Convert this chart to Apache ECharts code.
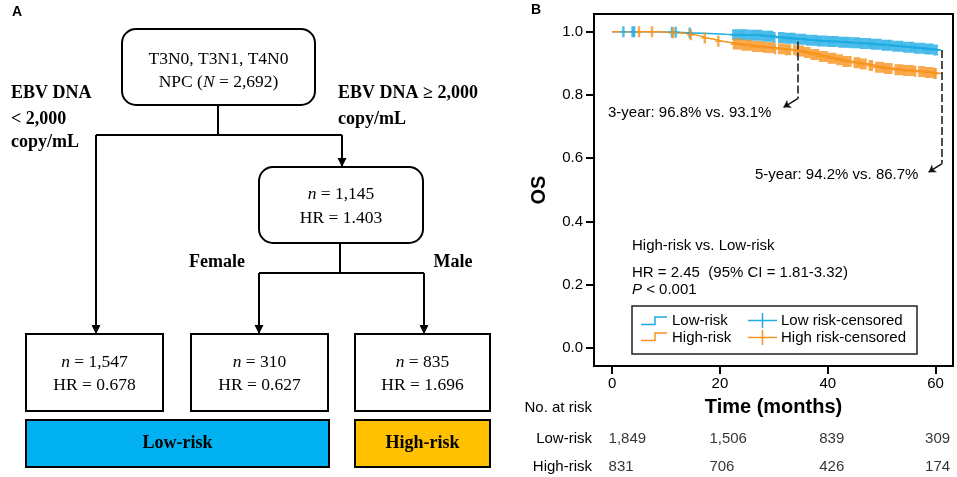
<!DOCTYPE html>
<html>
<head>
<meta charset="utf-8">
<script src="https://cdn.jsdelivr.net/npm/echarts@6/dist/echarts.min.js"></script>
<style>
html,body{margin:0;padding:0;background:#fff;}
#chart{width:957px;height:477px;}
</style>
</head>
<body>
<div id="chart"></div>
<script>
// ---------------- DATA ----------------
// Panel A: decision tree
const rootStages = 'T3N0, T3N1, T4N0';
const rootN = '2,692';
const splitLabelsEBV = ['EBV DNA', '< 2,000', 'copy/mL'];
const splitLabelsEBVHigh = ['EBV DNA \u2265 2,000', 'copy/mL'];
const midN = '1,145';
const midHR = '1.403';
const sexLabels = ['Female', 'Male'];
const leafN = ['1,547', '310', '835'];
const leafHR = ['0.678', '0.627', '1.696'];
const riskGroups = ['Low-risk', 'High-risk'];

// Panel B: Kaplan-Meier (time in months, survival proportion)
const lowRiskSteps = [[0,1.0],[8,0.998],[12,0.996],[15,0.994],[18,0.992],[21,0.990],[25,0.989],[28,0.986],[30,0.982],[32,0.979],[34,0.976],[36,0.973],[38,0.971],[40,0.969],[42,0.967],[44,0.965],[46,0.963],[48,0.960],[50,0.957],[52,0.954],[54,0.951],[56,0.948],[58,0.945],[59.5,0.942],[61,0.942]];
const highRiskSteps = [[0,1.0],[8.5,0.997],[12,0.994],[14,0.990],[15.5,0.986],[16.5,0.980],[17.5,0.976],[19,0.970],[20.5,0.966],[22,0.961],[24,0.957],[26,0.953],[28,0.950],[30,0.946],[32,0.943],[34,0.939],[35.5,0.934],[37,0.928],[38.5,0.922],[40,0.916],[41.5,0.911],[43,0.906],[44.5,0.902],[46,0.898],[47.5,0.893],[49,0.888],[50.5,0.884],[52,0.880],[54,0.877],[56,0.874],[58,0.871],[59.5,0.868],[61,0.868]];
const lowRiskCensored = [2.1,3.8,4.1,11.1,11.8,14.4,
 22.5,22.9,23.3,23.7,24.1,24.5,24.9,25.3,25.7,26.1,26.5,26.9,27.3,27.7,28.1,28.5,28.9,29.3,29.7,30.1,
 31.0,31.4,31.8,32.2,32.6,33.0,33.4,33.8,34.2,34.6,35.0,35.4,35.8,36.2,36.6,37.0,37.4,37.8,38.2,38.6,39.0,39.4,39.8,40.2,40.6,41.0,41.4,41.8,42.2,42.6,43.0,43.4,43.8,44.2,44.6,45.0,45.4,45.8,46.2,46.6,47.0,47.4,47.8,48.2,48.6,49.0,49.4,49.8,50.2,50.6,51.0,51.4,51.8,52.2,52.6,53.0,53.4,53.8,54.2,54.6,55.0,55.4,55.8,56.2,56.6,57.0,57.4,57.8,58.2,58.6,59.0,59.4,59.8,60.2];
const highRiskCensored = [5.0,7.4,11.3,14.6,17.2,19.7,
 22.6,23.0,23.4,23.8,24.2,24.6,25.0,25.4,25.8,26.2,26.6,27.0,27.4,27.8,28.2,28.6,29.0,29.4,29.8,30.2,
 31.0,31.4,31.8,32.2,32.6,33.0,33.8,34.2,34.6,35.0,35.4,35.8,36.2,36.6,37.0,37.4,37.8,38.2,38.6,39.0,39.4,39.8,40.2,40.6,41.0,41.4,41.8,42.2,42.6,43.0,43.4,43.8,44.2,
 45.0,45.4,45.8,46.2,46.6,47.0,47.8,48.2,49.0,49.4,49.8,50.2,50.6,51.0,51.4,51.8,52.6,53.0,53.4,53.8,54.2,54.6,55.0,55.4,55.8,56.2,57.0,57.4,57.8,58.2,58.6,59.0,59.4,59.8,60.0];
const xTicks = [0, 20, 40, 60];
const yTicks = [0, 0.2, 0.4, 0.6, 0.8, 1.0];
const atRiskTimes = [0, 20, 40, 60];
const atRiskLow = ['1,849', '1,506', '839', '309'];
const atRiskHigh = ['831', '706', '426', '174'];
const survival3yr = ['96.8%', '93.1%'];
const survival5yr = ['94.2%', '86.7%'];
const hrText = '2.45';
const ciText = '1.81-3.32';
const pText = '0.001';
const legendNames = ['Low-risk', 'High-risk', 'Low risk-censored', 'High risk-censored'];
// guide lines (time, survival): vertical dashed part then arrow
const guide3yr = [[34.5, 0.969], [34.5, 0.789], [31.8, 0.761]];
const guide5yr = [[61.2, 0.942], [61.2, 0.583], [58.7, 0.556]];

// ---------------- STYLE / LAYOUT ----------------
const BLUE = '#1DABE3', ORANGE = '#F7931E';
const SERIF = '"Liberation Serif","Times New Roman",serif';
const SANS = '"Liberation Sans",Arial,sans-serif';
const TREE_FS = 17.5;
const atRiskShift = [-4, -11, -9, -11];

function survivalAt(steps, t) {
  let s = steps[0][1];
  for (const p of steps) { if (p[0] <= t) s = p[1]; else break; }
  return s;
}

const g = [];
function txt(x, y, text, opt) {
  opt = opt || {};
  g.push({type: 'text', x: x, y: y, z: 10, style: {
    text: text, fill: '#000',
    fontFamily: opt.family || SERIF, fontSize: opt.size || TREE_FS, fontWeight: opt.weight || 'normal',
    align: opt.align || 'center', verticalAlign: 'middle',
    textAlign: opt.align || 'center', textVerticalAlign: 'middle',
    rich: opt.rich
  }});
}
function line(points, opt) {
  opt = opt || {};
  g.push({type: 'polyline', z: 5, shape: {points: points},
    style: {stroke: opt.color || '#000', lineWidth: opt.width || 2, fill: null}});
}
function arrowHead(x, y) {
  g.push({type: 'polygon', z: 6, shape: {points: [[x - 4.5, y - 9], [x + 4.5, y - 9], [x, y]]}, style: {fill: '#000'}});
}
function box(x, y, w, h, r, fill) {
  g.push({type: 'rect', z: 4, shape: {x: x, y: y, width: w, height: h, r: r || 0},
    style: {fill: fill || '#fff', stroke: '#000', lineWidth: 2}});
}
const italicRich = {i: {fontStyle: 'italic', fontFamily: SERIF, fontSize: TREE_FS}, r: {fontFamily: SERIF, fontSize: TREE_FS}};

// Panel labels
txt(17, 12, 'A', {family: SANS, size: 14, weight: 'bold'});
txt(536, 10, 'B', {family: SANS, size: 14, weight: 'bold'});

// Root box
box(122, 29, 193, 76, 14);
txt(218.5, 59, rootStages);
txt(218.5, 82, '{r|NPC (}{i|N}{r| = ' + rootN + ')}', {rich: italicRich});
line([[218, 105], [218, 135]]);
line([[96, 135], [342, 135]]);
line([[96, 135], [96, 333]]); arrowHead(96, 334);
line([[342, 135], [342, 166]]); arrowHead(342, 167);
// split labels
txt(11, 93, splitLabelsEBV[0], {align: 'left', weight: 'bold', size: 18});
txt(11, 119, splitLabelsEBV[1], {align: 'left', weight: 'bold', size: 18});
txt(11, 142, splitLabelsEBV[2], {align: 'left', weight: 'bold', size: 18});
txt(338, 93, splitLabelsEBVHigh[0], {align: 'left', weight: 'bold', size: 18});
txt(338, 119, splitLabelsEBVHigh[1], {align: 'left', weight: 'bold', size: 18});

// Middle box
box(259, 167, 164, 76, 14);
txt(341, 194, '{i|n}{r| = ' + midN + '}', {rich: italicRich});
txt(341, 218, 'HR = ' + midHR);
line([[340, 243], [340, 273]]);
line([[259, 273], [424, 273]]);
line([[259, 273], [259, 333]]); arrowHead(259, 334);
line([[424, 273], [424, 333]]); arrowHead(424, 334);
txt(217, 262, sexLabels[0], {weight: 'bold', size: 18});
txt(453, 262, sexLabels[1], {weight: 'bold', size: 18});

// Leaf boxes
const leafX = [[26, 163], [191, 328], [355, 490]];
leafX.forEach(function (b, i) {
  box(b[0], 334, b[1] - b[0], 77, 0);
  const cx = (b[0] + b[1]) / 2;
  txt(cx, 362, '{i|n}{r| = ' + leafN[i] + '}', {rich: italicRich});
  txt(cx, 385, 'HR = ' + leafHR[i]);
});
// Risk bars
box(26, 420, 303, 47, 0, '#00B0F0');
txt(177.5, 443.5, riskGroups[0], {weight: 'bold', size: 18});
box(355, 420, 135, 47, 0, '#FFC000');
txt(422.5, 443.5, riskGroups[1], {weight: 'bold', size: 18});

// Panel B annotations
const sansOpt = {family: SANS, size: 15, align: 'left'};
txt(608, 113, '3-year: ' + survival3yr[0] + ' vs. ' + survival3yr[1], sansOpt);
txt(755, 175, '5-year: ' + survival5yr[0] + ' vs. ' + survival5yr[1], sansOpt);
txt(632, 246, riskGroups[1] + ' vs. ' + riskGroups[0], sansOpt);
txt(632, 273, 'HR = ' + hrText + '  (95% CI = ' + ciText + ')', sansOpt);
txt(632, 290, '{i|P}{r| < ' + pText + '}', Object.assign({}, sansOpt, {rich: {i: {fontStyle: 'italic', fontFamily: SANS, fontSize: 15}, r: {fontFamily: SANS, fontSize: 15}}}));
txt(592, 408, 'No. at risk', {family: SANS, size: 15, align: 'right'});

// Legend box
g.push({type: 'rect', z: 4, shape: {x: 632, y: 306, width: 285, height: 48}, style: {fill: '#fff', stroke: '#222', lineWidth: 1.5}});
line([[641, 324.5], [655, 324.5], [655, 317], [667, 317]], {color: BLUE, width: 1.5});
line([[641, 340.5], [655, 340.5], [655, 333], [667, 333]], {color: ORANGE, width: 1.5});
line([[748, 320.5], [777, 320.5]], {color: BLUE, width: 1.5});
line([[762.5, 313], [762.5, 328]], {color: BLUE, width: 1.5});
line([[748, 337.5], [777, 337.5]], {color: ORANGE, width: 1.5});
line([[762.5, 330], [762.5, 345]], {color: ORANGE, width: 1.5});
txt(672, 320.5, legendNames[0], sansOpt);
txt(672, 337.5, legendNames[1], sansOpt);
txt(781, 320.5, legendNames[2], sansOpt);
txt(781, 337.5, legendNames[3], sansOpt);

// ---------------- CHART ----------------
// filled plus: vertical bar 2.4 wide x 11 tall, horizontal bar 7 wide x 1.6 tall
const plusSymbol = 'path://M2.3,0L4.7,0L4.7,11L2.3,11Z M0,4.7L7,4.7L7,6.3L0,6.3Z';
function censorData(steps, times) { return times.map(function (t) { return [t, survivalAt(steps, t)]; }); }

const axisTextStyle = {color: '#000', fontFamily: SANS, fontSize: 15};
const option = {
  animation: false,
  backgroundColor: '#fff',
  grid: [
    {left: 594, top: 14, width: 359, height: 352, show: true, borderColor: '#000', borderWidth: 2, backgroundColor: 'transparent', containLabel: false, outerBoundsMode: 'none'},
    {left: 594, top: 425, width: 359, height: 56, containLabel: false, outerBoundsMode: 'none'}
  ],
  xAxis: [
    {type: 'value', gridIndex: 0, min: -3.35, max: 63.23, position: 'bottom',
     axisLine: {show: false, onZero: false}, splitLine: {show: false},
     axisTick: {show: true, inside: false, length: 8, customValues: xTicks, lineStyle: {color: '#000', width: 2}},
     axisLabel: Object.assign({customValues: xTicks, margin: 10}, axisTextStyle),
     name: 'Time (months)', nameLocation: 'middle', nameGap: 31,
     nameTextStyle: {color: '#000', fontFamily: SANS, fontSize: 20, fontWeight: 'bold'}},
    {type: 'value', gridIndex: 1, min: -3.35, max: 63.23, show: false}
  ],
  yAxis: [
    {type: 'value', gridIndex: 0, min: -0.057, max: 1.056, position: 'left',
     axisLine: {show: false, onZero: false}, splitLine: {show: false},
     axisTick: {show: true, inside: false, length: 8, customValues: yTicks, lineStyle: {color: '#000', width: 2}},
     axisLabel: Object.assign({customValues: yTicks, margin: 11, formatter: function (v) { return v.toFixed(1); }}, axisTextStyle),
     name: 'OS', nameLocation: 'middle', nameGap: 45, nameRotate: 90,
     nameTextStyle: {color: '#000', fontFamily: SANS, fontSize: 20, fontWeight: 'bold'}},
    {type: 'category', gridIndex: 1, data: [legendNames[0], legendNames[1]], inverse: true,
     axisLine: {show: false, onZero: false}, axisTick: {show: false},
     axisLabel: Object.assign({margin: 2}, axisTextStyle)}
  ],
  series: [
    {name: legendNames[0], type: 'line', step: 'end', data: lowRiskSteps, showSymbol: false, symbol: 'none',
     lineStyle: {color: BLUE, width: 1.5}, itemStyle: {color: BLUE}, z: 2},
    {name: legendNames[1], type: 'line', step: 'end', data: highRiskSteps, showSymbol: false, symbol: 'none',
     lineStyle: {color: ORANGE, width: 1.5}, itemStyle: {color: ORANGE}, z: 2},
    {name: legendNames[2], type: 'scatter', data: censorData(lowRiskSteps, lowRiskCensored), symbol: plusSymbol,
     symbolSize: [7, 11], symbolKeepAspect: false, itemStyle: {color: BLUE}, z: 3},
    {name: legendNames[3], type: 'scatter', data: censorData(highRiskSteps, highRiskCensored), symbol: plusSymbol,
     symbolSize: [7, 11], symbolKeepAspect: false, itemStyle: {color: ORANGE}, z: 4},
    {type: 'line', data: [], silent: true,
     markLine: {silent: true, symbol: ['none', 'none'], animation: false, label: {show: false},
       lineStyle: {color: '#3a3a3a', width: 1.8, type: [8, 3]},
       data: [[{coord: guide3yr[0]}, {coord: guide3yr[1]}], [{coord: guide5yr[0]}, {coord: guide5yr[1]}]]}},
    {type: 'line', data: [], silent: true,
     markLine: {silent: true, symbol: ['none', 'arrow'], symbolSize: 7, animation: false, label: {show: false},
       lineStyle: {color: '#111', width: 1.4, type: 'solid'},
       data: [[{coord: guide3yr[1]}, {coord: guide3yr[2]}], [{coord: guide5yr[1]}, {coord: guide5yr[2]}]]}},
    {type: 'scatter', xAxisIndex: 1, yAxisIndex: 1, symbolSize: 1, itemStyle: {color: 'transparent'}, silent: true,
     data: atRiskTimes.map(function (t, i) { return {value: [t, 0], label: {formatter: atRiskLow[i], offset: [atRiskShift[i], 0]}}; }),
     label: Object.assign({show: true, position: 'right', distance: 0, align: 'left'}, axisTextStyle)},
    {type: 'scatter', xAxisIndex: 1, yAxisIndex: 1, symbolSize: 1, itemStyle: {color: 'transparent'}, silent: true,
     data: atRiskTimes.map(function (t, i) { return {value: [t, 1], label: {formatter: atRiskHigh[i], offset: [atRiskShift[i], 0]}}; }),
     label: Object.assign({show: true, position: 'right', distance: 0, align: 'left'}, axisTextStyle)}
  ],
  graphic: g
};

const chart = echarts.init(document.getElementById('chart'), null, {renderer: 'canvas'});
chart.setOption(option);
</script>
</body>
</html>
